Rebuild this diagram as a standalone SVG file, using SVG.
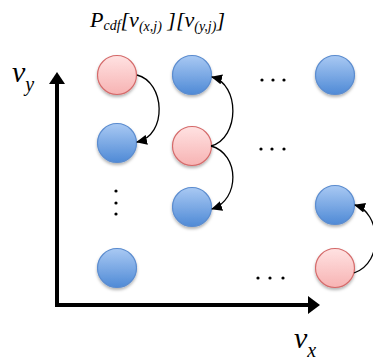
<svg xmlns="http://www.w3.org/2000/svg" width="373" height="364" viewBox="0 0 373 364">
<defs>
  <linearGradient id="gBlue" x1="0" y1="0" x2="0" y2="1">
    <stop offset="0" stop-color="#a9c9f3"/>
    <stop offset="1" stop-color="#4f8ad6"/>
  </linearGradient>
  <linearGradient id="gPink" x1="0" y1="0" x2="0" y2="1">
    <stop offset="0" stop-color="#ffe2e2"/>
    <stop offset="1" stop-color="#f7b3b3"/>
  </linearGradient>
  <filter id="sh" x="-30%" y="-30%" width="160%" height="170%">
    <feDropShadow dx="0" dy="2" stdDeviation="1.5" flood-color="#000" flood-opacity="0.3"/>
  </filter>
  <marker id="ah" viewBox="0 0 11 10" refX="10" refY="5" markerWidth="11" markerHeight="10" markerUnits="userSpaceOnUse" orient="auto">
    <path d="M0,0 L11,5 L0,10 z" fill="#000"/>
  </marker>
  <style>
    .blue{fill:url(#gBlue);stroke:#5b8ccf;stroke-width:1.2;filter:url(#sh)}
    .pink{fill:url(#gPink);stroke:#d56b6b;stroke-width:1.2;filter:url(#sh)}
    .arc{fill:none;stroke:#000;stroke-width:1.3;marker-end:url(#ah)}
    .axis{fill:none;stroke:#000;stroke-width:4}
    .math{font-family:"Liberation Serif",serif;font-style:italic;fill:#000}
    .dot{fill:#000}
  </style>
</defs>

<g id="title">
  <text class="math" x="90" y="27" font-size="22">P<tspan font-size="14" dy="3">cdf</tspan><tspan dy="-3">[v</tspan><tspan font-size="14" dy="4">(x,j)</tspan><tspan dy="-4"> ][v</tspan><tspan font-size="14" dy="4">(y,j)</tspan><tspan dy="-4">]</tspan></text>
</g>

<g id="axes">
  <path class="axis" d="M57,84 L57,305 L309,305"/>
  <path d="M49,84 L57,72 L65,84 z" fill="#000"/>
  <path d="M308,296 L320,305 L308,314 z" fill="#000"/>
</g>
<g id="label-vy"><text class="math" x="12" y="82" font-size="30">v<tspan font-size="20" dy="9">y</tspan></text></g>
<g id="label-vx"><text class="math" x="294" y="348" font-size="30">v<tspan font-size="20" dy="9">x</tspan></text></g>

<g id="n11"><circle class="pink" cx="117" cy="75" r="19.5"/></g>
<g id="n12"><circle class="blue" cx="192" cy="75" r="19.5"/></g>
<g id="n13"><circle class="blue" cx="335" cy="75" r="19.5"/></g>
<g id="n21"><circle class="blue" cx="117" cy="143" r="19.5"/></g>
<g id="n22"><circle class="pink" cx="192" cy="146" r="19.5"/></g>
<g id="n32"><circle class="blue" cx="192" cy="207" r="19.5"/></g>
<g id="n33"><circle class="blue" cx="335" cy="205" r="19.5"/></g>
<g id="n41"><circle class="blue" cx="117" cy="268" r="19.5"/></g>
<g id="n43"><circle class="pink" cx="335" cy="268" r="19.5"/></g>

<g id="ellipses">
  <circle class="dot" cx="262" cy="80" r="1.6"/><circle class="dot" cx="273" cy="80" r="1.6"/><circle class="dot" cx="284" cy="80" r="1.6"/>
  <circle class="dot" cx="261" cy="149" r="1.6"/><circle class="dot" cx="272" cy="149" r="1.6"/><circle class="dot" cx="284" cy="149" r="1.6"/>
  <circle class="dot" cx="258" cy="278" r="1.6"/><circle class="dot" cx="270" cy="278" r="1.6"/><circle class="dot" cx="283" cy="278" r="1.6"/>
  <circle class="dot" cx="116" cy="191" r="1.6"/><circle class="dot" cx="116" cy="203" r="1.6"/><circle class="dot" cx="116" cy="214" r="1.6"/>
</g>

<g id="connectors">
  <path class="arc" d="M137,75 C165,82 168,135 137,142"/>
  <path class="arc" d="M211,146 C240,138 240,84 212,77"/>
  <path class="arc" d="M211,146 C240,154 240,200 212,209"/>
  <path class="arc" d="M354,273 C385,262 380,212 355,205"/>
</g>
</svg>
